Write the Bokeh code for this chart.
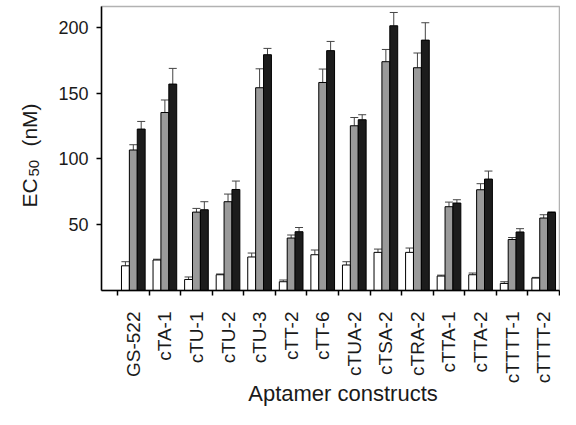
import math
from bokeh.plotting import figure
from bokeh.models import (ColumnDataSource, FixedTicker, Range1d, Whisker, TeeHead,
                          Label, BoxAnnotation)
from bokeh.embed import file_html
from bokeh.resources import INLINE

# ---- data ----
names = ["GS-522", "cTA-1", "cTU-1", "cTU-2", "cTU-3", "cTT-2", "cTT-6",
         "cTUA-2", "cTSA-2", "cTRA-2", "cTTA-1", "cTTA-2", "cTTTT-1", "cTTTT-2"]
white = [18.8, 23.2, 8.4, 12.0, 25.5, 6.7, 27.2, 19.4, 29.0, 29.0, 11.0, 12.0, 5.4, 9.5]
white_err = [3.1, 0.6, 1.9, 0.6, 3.0, 1.3, 3.6, 2.5, 2.5, 3.3, 0.7, 1.3, 1.3, 0.5]
gray = [106.8, 135.3, 59.6, 67.5, 154.1, 39.9, 158.1, 125.2, 173.9, 169.3, 63.7, 76.6, 38.8, 55.1]
gray_err = [4.0, 9.5, 2.8, 5.8, 14.4, 2.3, 10.2, 6.3, 9.3, 11.2, 3.5, 4.6, 1.5, 2.5]
black = [122.7, 156.9, 61.4, 76.8, 179.2, 44.7, 182.3, 129.8, 201.2, 190.3, 66.5, 84.7, 44.5, 59.3]
black_err = [5.8, 11.9, 6.1, 6.4, 4.8, 3.2, 7.0, 3.8, 10.1, 13.2, 2.5, 6.1, 2.5, 0.5]
y_ticks = [50, 100, 150, 200]
x_title = "Aptamer constructs"

FONT = "Liberation Sans"
TXT = "#1a1a1a"

# plot-area geometry (data units)
X0, X1 = -1.007, 13.5      # left / right of the boxed plot area
Y0, Y1 = 0.0, 215.8        # bottom / top of the boxed plot area

p = figure(width=560, height=409, output_backend="svg", toolbar_location=None,
           min_border=0, x_range=Range1d(-4.207, 13.532), y_range=Range1d(-90.4, 220.4))
p.grid.visible = False
p.outline_line_color = None
p.background_fill_color = "white"
p.border_fill_color = "white"

centers = list(range(len(names)))
series = [(white, white_err, "white", -0.25),
          (gray, gray_err, "#9a9a9a", 0.0),
          (black, black_err, "#1c1c1c", 0.25)]
for vals, errs, color, off in series:
    xs = [c + off for c in centers]
    src = ColumnDataSource(dict(x=xs, top=vals, up=[v + e for v, e in zip(vals, errs)]))
    w = Whisker(source=src, base="x", lower="top", upper="up", dimension="height",
                line_color="#444444", line_width=1,
                upper_head=TeeHead(size=8, line_color="#444444", line_width=1),
                lower_head=None, level="underlay")
    p.add_layout(w)
    p.vbar(x="x", top="top", bottom=0, width=0.25, source=src,
           fill_color=color, line_color="black", line_width=1)

# frame box
p.add_layout(BoxAnnotation(left=X0, right=X1, bottom=Y0, top=Y1, fill_color=None,
                           line_color="black", line_width=1.5, level="overlay"))

# x axis: labels at group centres, ticks at group boundaries
xa = p.xaxis[0]
xa.fixed_location = Y0
xa.bounds = (X0, X1)
xa.ticker = FixedTicker(ticks=centers, minor_ticks=[c - 0.5 for c in centers] + [len(names) - 0.5])
xa.major_label_overrides = {c: n for c, n in zip(centers, names)}
xa.major_label_orientation = math.pi / 2
xa.major_tick_in = 0
xa.major_tick_out = 0
xa.minor_tick_in = 0
xa.minor_tick_out = 5
xa.minor_tick_line_color = "black"
xa.minor_tick_line_width = 1.5
xa.major_label_standoff = 16
xa.major_label_text_font = FONT
xa.major_label_text_font_size = "19px"
xa.major_label_text_color = TXT
xa.axis_line_width = 1.5
xa.axis_line_color = "black"

ya = p.yaxis[0]
ya.fixed_location = X0
ya.bounds = (Y0, Y1)
ya.ticker = FixedTicker(ticks=y_ticks, minor_ticks=[])
ya.major_tick_in = 0
ya.major_tick_out = 5
ya.major_tick_line_width = 1.5
ya.major_label_standoff = 8
ya.major_label_text_font = FONT
ya.major_label_text_font_size = "18px"
ya.major_label_text_color = TXT
ya.axis_line_width = 1.5
ya.axis_line_color = "black"

# axis titles (y title with a real subscript)
p.add_layout(Label(x=-3.288, y=63.1, text="EC", angle=math.pi / 2, text_align="left",
                   text_baseline="alphabetic", text_font=FONT, text_font_size="21px",
                   text_color=TXT))
p.add_layout(Label(x=-3.161, y=86.6, text="50", angle=math.pi / 2, text_align="left",
                   text_baseline="alphabetic", text_font=FONT, text_font_size="15px",
                   text_color=TXT))
p.add_layout(Label(x=-3.288, y=109.4, text="(nM)", angle=math.pi / 2, text_align="left",
                   text_baseline="alphabetic", text_font=FONT, text_font_size="21px",
                   text_color=TXT))
p.add_layout(Label(x=6.643, y=-78.3, text=x_title, text_align="center",
                   text_baseline="alphabetic", text_font=FONT, text_font_size="22px",
                   text_color=TXT))

open("out.html", "w").write(file_html(p, INLINE))
